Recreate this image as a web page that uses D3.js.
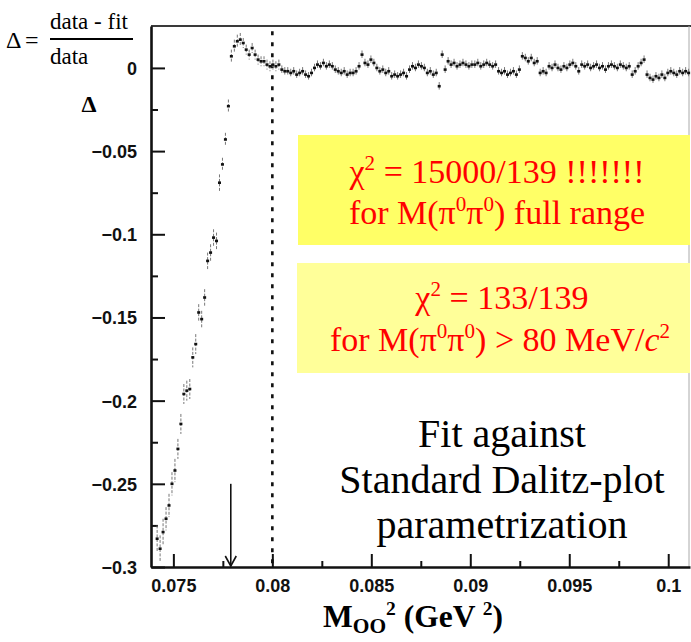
<!DOCTYPE html>
<html><head><meta charset="utf-8">
<script src="https://cdn.jsdelivr.net/npm/d3@7"></script>
<style>body{margin:0;background:#fff;} svg{display:block;}</style>
</head><body>
<script>
// ---- data ----
const steepX = [0.07418,0.07433,0.07448,0.07463,0.07478,0.07493,0.07508,0.07523,0.07538,0.07553,
  0.07568,0.07583,0.07598,0.07613,0.07628,0.07643,0.07658,0.07673,0.07688,0.07703,
  0.07718,0.07733,0.07748,0.07763,0.07778,0.07793,0.07808,0.07823,0.07838,0.07853,
  0.07868,0.07883,0.07898,0.07913,0.07928,0.07943,0.07958,0.07973,0.07988,0.08003,
  0.08018,0.08033];
const steepDelta = [-0.283,-0.289,-0.279,-0.271,-0.263,-0.250,-0.242,-0.229,-0.214,-0.196,
  -0.194,-0.193,-0.174,-0.166,-0.147,-0.151,-0.138,-0.116,-0.111,-0.102,
  -0.104,-0.069,-0.058,-0.043,-0.023,0.007,0.013,0.016,0.017,0.015,
  0.011,0.008,0.012,0.008,0.005,0.004,0.004,0.002,0.001,0.002,
  0.001,0.002];
const steepErr = [0.008,0.008,0.008,0.007,0.007,0.007,0.007,0.006,0.006,0.006,
  0.006,0.006,0.006,0.006,0.005,0.005,0.005,0.005,0.005,0.005,
  0.005,0.005,0.004,0.004,0.004,0.004,0.004,0.004,0.004,0.003,
  0.003,0.003,0.003,0.003,0.003,0.003,0.003,0.003,0.003,0.003,
  0.003,0.003];
const flatX = [0.08048,0.08063,0.08078,0.08093,0.08108,0.08123,0.08138,0.08153,0.08168,0.08183,
  0.08198,0.08213,0.08228,0.08243,0.08258,0.08273,0.08288,0.08303,0.08318,0.08333,
  0.08348,0.08363,0.08378,0.08393,0.08408,0.08423,0.08438,0.08453,0.08468,0.08483,
  0.08498,0.08513,0.08528,0.08543,0.08558,0.08573,0.08588,0.08603,0.08618,0.08633,
  0.08648,0.08663,0.08678,0.08693,0.08708,0.08723,0.08738,0.08753,0.08768,0.08783,
  0.08798,0.08813,0.08828,0.08843,0.08858,0.08873,0.08888,0.08903,0.08918,0.08933,
  0.08948,0.08963,0.08978,0.08993,0.09008,0.09023,0.09038,0.09053,0.09068,0.09083,
  0.09098,0.09113,0.09128,0.09143,0.09158,0.09173,0.09188,0.09203,0.09218,0.09233,
  0.09248,0.09263,0.09278,0.09293,0.09308,0.09323,0.09338,0.09353,0.09368,0.09383,
  0.09398,0.09413,0.09428,0.09443,0.09458,0.09473,0.09488,0.09503,0.09518,0.09533,
  0.09548,0.09563,0.09578,0.09593,0.09608,0.09623,0.09638,0.09653,0.09668,0.09683,
  0.09698,0.09713,0.09728,0.09743,0.09758,0.09773,0.09788,0.09803,0.09818,0.09833,
  0.09848,0.09863,0.09878,0.09893,0.09908,0.09923,0.09938,0.09953,0.09968,0.09983,
  0.09998,0.10013,0.10028,0.10043,0.10058,0.10073,0.10088,0.10103];
const flatDelta = [-0.001,-0.002,-0.002,-0.003,-0.002,-0.004,-0.003,-0.002,-0.004,-0.005,
  -0.003,0.000,0.002,0.001,0.003,0.001,0.002,0.001,-0.001,-0.002,
  -0.003,-0.002,-0.004,-0.003,-0.003,-0.002,0.001,0.008,0.003,0.002,
  0.005,0.003,0.000,-0.002,-0.001,-0.003,-0.002,-0.005,-0.004,-0.005,
  -0.004,-0.003,-0.005,-0.001,0.001,0.000,0.002,0.001,0.000,-0.003,
  -0.002,-0.004,-0.003,-0.011,0.008,-0.001,0.004,0.002,0.003,0.001,
  0.002,0.003,0.002,0.001,0.002,0.002,0.003,0.001,0.002,0.003,
  0.002,0.001,0.002,-0.002,-0.003,-0.002,-0.004,-0.003,-0.002,-0.004,
  -0.001,0.007,0.006,0.004,0.006,0.003,0.004,-0.003,-0.002,-0.003,
  0.001,0.000,0.002,0.000,-0.001,0.001,0.000,0.002,0.003,0.001,
  -0.002,0.002,0.001,0.002,0.000,0.001,0.002,0.000,0.001,-0.001,
  0.001,0.002,0.001,0.000,0.002,0.001,0.000,0.001,-0.004,-0.002,
  0.001,0.003,0.005,-0.004,-0.006,-0.007,-0.005,-0.006,-0.004,-0.006,
  -0.003,-0.002,-0.003,-0.004,-0.002,-0.003,-0.002,-0.003];
const flatErr = [0.0025];

const yTickValues = [0, -0.05, -0.1, -0.15, -0.2, -0.25, -0.3];
const yTickLabels = ["0", "\u22120.05", "\u22120.1", "\u22120.15", "\u22120.2", "\u22120.25", "\u22120.3"];
const yMinorValues = [-0.025, -0.075, -0.125, -0.175, -0.225, -0.275];
const xTickValues = [0.075, 0.08, 0.085, 0.09, 0.095, 0.1];
const xTickLabels = ["0.075", "0.08", "0.085", "0.09", "0.095", "0.1"];
const xMinorValues = [0.0775, 0.0825, 0.0875, 0.0925, 0.0975];
const cutLine = [0.08];          // M^2 cut (dashed)
const cutRange = [0.022, -0.3];
const arrowMark = [0.0779];      // arrow position
const arrowRange = [-0.25, -0.3];

// ---- layout ----
const W = 691, H = 642;
const L = 151, R = 690, T = 26, B = 567;
const svg = d3.select("body").append("svg").attr("width", W).attr("height", H);
const x = d3.scaleLinear().domain([0.07387, 0.10110]).range([L, R]);
const y = d3.scaleLinear().domain([-0.3, 0.0252]).range([B, T]);

const SANS = "Liberation Sans";
const SERIF = "Liberation Serif";

// frame (top and right)
svg.append("line").attr("x1", L).attr("x2", R + 1).attr("y1", T).attr("y2", T)
  .attr("stroke", "#3a3a3a").attr("stroke-width", 2.2);
svg.append("line").attr("x1", R - 1).attr("x2", R - 1).attr("y1", T).attr("y2", B)
  .attr("stroke", "#aaa").attr("stroke-width", 1);

// y axis
const yAxis = d3.axisLeft(y).tickValues(yTickValues)
  .tickFormat((d, i) => yTickLabels[i]).tickSizeInner(-14).tickSizeOuter(0).tickPadding(14);
const gy = svg.append("g").attr("transform", `translate(${L},0)`).call(yAxis);
gy.attr("font-family", null).attr("font-size", null);
gy.select(".domain").attr("stroke", "#111").attr("stroke-width", 2.6);
gy.selectAll(".tick line").attr("stroke", "#111").attr("stroke-width", 2);
gy.selectAll(".tick text").style("font-family", SANS).style("font-weight", "bold")
  .style("font-size", "18px").attr("fill", "#111").attr("dy", "0.36em");
const yMinor = d3.axisLeft(y).tickValues(yMinorValues).tickFormat("").tickSizeInner(-7).tickSizeOuter(0);
const gym = svg.append("g").attr("transform", `translate(${L},0)`).call(yMinor);
gym.select(".domain").remove();
gym.selectAll(".tick line").attr("stroke", "#111").attr("stroke-width", 2);

// x axis
const xAxis = d3.axisBottom(x).tickValues(xTickValues)
  .tickFormat((d, i) => xTickLabels[i]).tickSizeInner(-13).tickSizeOuter(0).tickPadding(12);
const gx = svg.append("g").attr("transform", `translate(0,${B})`).call(xAxis);
gx.attr("font-family", null).attr("font-size", null);
gx.select(".domain").attr("stroke", "#111").attr("stroke-width", 2.4);
gx.selectAll(".tick line").attr("stroke", "#111").attr("stroke-width", 2);
gx.selectAll(".tick text").style("font-family", SANS).style("font-weight", "bold")
  .style("font-size", "18px").attr("fill", "#111");
const xMinor = d3.axisBottom(x).tickValues(xMinorValues).tickFormat("").tickSizeInner(-6).tickSizeOuter(0);
const gxm = svg.append("g").attr("transform", `translate(0,${B})`).call(xMinor);
gxm.select(".domain").remove();
gxm.selectAll(".tick line").attr("stroke", "#111").attr("stroke-width", 2);

// yellow boxes
svg.append("rect").attr("x", 298).attr("y", 135).attr("width", 392).attr("height", 110).attr("fill", "#ffff66");
svg.append("rect").attr("x", 297).attr("y", 263).attr("width", 393).attr("height", 110).attr("fill", "#ffff99");

// dashed cut line
svg.selectAll("line.cut").data(cutLine).enter().append("line").attr("class", "cut")
  .attr("x1", d => x(d)).attr("x2", d => x(d))
  .attr("y1", y(cutRange[0])).attr("y2", y(cutRange[1]))
  .attr("stroke", "#111").attr("stroke-width", 2.6).attr("stroke-dasharray", "4,7");

// arrow
arrowMark.forEach(a => {
  const ax = x(a), ay1 = y(arrowRange[0]), ay2 = y(arrowRange[1]);
  svg.append("line").attr("x1", ax).attr("x2", ax).attr("y1", ay1).attr("y2", ay2 - 1)
    .attr("stroke", "#111").attr("stroke-width", 1.6);
  svg.append("path").attr("d", `M${ax - 5.5},${ay2 - 11} L${ax},${ay2 - 1} L${ax + 5.5},${ay2 - 11}`)
    .attr("fill", "none").attr("stroke", "#111").attr("stroke-width", 1.6);
});

// data points
const pts = steepX.map((v, i) => ({x: v, d: steepDelta[i], e: steepErr[i]}))
  .concat(flatX.map((v, i) => ({x: v, d: flatDelta[i], e: flatErr[0]})));
const gp = svg.append("g");
gp.selectAll("line.err").data(pts).enter().append("line").attr("class", "err")
  .attr("x1", d => x(d.x)).attr("x2", d => x(d.x))
  .attr("y1", d => y(d.d + d.e)).attr("y2", d => y(d.d - d.e))
  .attr("stroke", "#777").attr("stroke-width", 1).attr("stroke-dasharray", "3,1.5");
gp.selectAll("rect.pt").data(pts).enter().append("rect").attr("class", "pt")
  .attr("x", d => x(d.x) - 1.5).attr("y", d => y(d.d) - 1.3)
  .attr("width", 3).attr("height", 2.6).attr("fill", "#111");

// text helpers
function rich(g, px, py, parts, size, opts) {
  const t = g.append("text").attr("x", px).attr("y", py)
    .style("font-family", SERIF).style("font-size", size + "px")
    .attr("text-anchor", opts.anchor || "start").attr("fill", opts.fill || "#000")
    .style("font-weight", opts.weight || "normal");
  let shift = 0;
  parts.forEach(p => {
    let target = 0, fs = size;
    if (p.sup) { target = -0.38 * size; fs = 0.62 * size; }
    if (p.sub) { target = (opts.subShift || 0.28) * size; fs = 0.68 * size; }
    const s = t.append("tspan").text(p.t).style("font-size", fs + "px").attr("dy", target - shift);
    if (p.italic) s.style("font-style", "italic");
    shift = target;
  });
  return t;
}
function plain(px, py, s, size, opts) {
  opts = opts || {};
  return svg.append("text").attr("x", px).attr("y", py)
    .attr("text-anchor", opts.anchor || "start")
    .style("font-family", SERIF).style("font-size", size + "px")
    .style("font-weight", opts.weight || "normal").attr("fill", "#000").text(s);
}

// box texts
const red = "#ff0000";
rich(svg, 497, 183, [{t: "\u03c7"}, {t: "2", sup: true}, {t: " = 15000/139 !!!!!!!"}], 34, {anchor: "middle", fill: red});
rich(svg, 497, 224, [{t: "for M(\u03c0"}, {t: "0", sup: true}, {t: "\u03c0"}, {t: "0", sup: true}, {t: ") full range"}], 34, {anchor: "middle", fill: red});
rich(svg, 502, 309, [{t: "\u03c7"}, {t: "2", sup: true}, {t: " = 133/139"}], 34, {anchor: "middle", fill: red});
rich(svg, 500, 351, [{t: "for M(\u03c0"}, {t: "0", sup: true}, {t: "\u03c0"}, {t: "0", sup: true}, {t: ") > 80 MeV/"}, {t: "c", italic: true}, {t: "2", sup: true}], 34, {anchor: "middle", fill: red});

// fit label
[["Fit against", 447], ["Standard Dalitz-plot", 493], ["parametrization", 538]].forEach(([s, by]) => {
  plain(502, by, s, 40, {anchor: "middle"});
});

// formula top-left
plain(6, 48, "\u0394", 24);
plain(25, 48, "=", 24);
svg.append("line").attr("x1", 50).attr("x2", 133).attr("y1", 39).attr("y2", 39).attr("stroke", "#000").attr("stroke-width", 2);
plain(50, 29, "data - fit", 23);
plain(50, 64, "data", 23);

// y label
plain(89, 112, "\u0394", 24, {anchor: "middle", weight: "bold"});

// x title
rich(svg, 323, 627, [{t: "M"}, {t: "OO", sub: true}, {t: "2", sup: true}, {t: " (GeV "}, {t: "2", sup: true}, {t: ")"}], 31.5, {weight: "bold", subShift: 0.2});
</script>
</body></html>
